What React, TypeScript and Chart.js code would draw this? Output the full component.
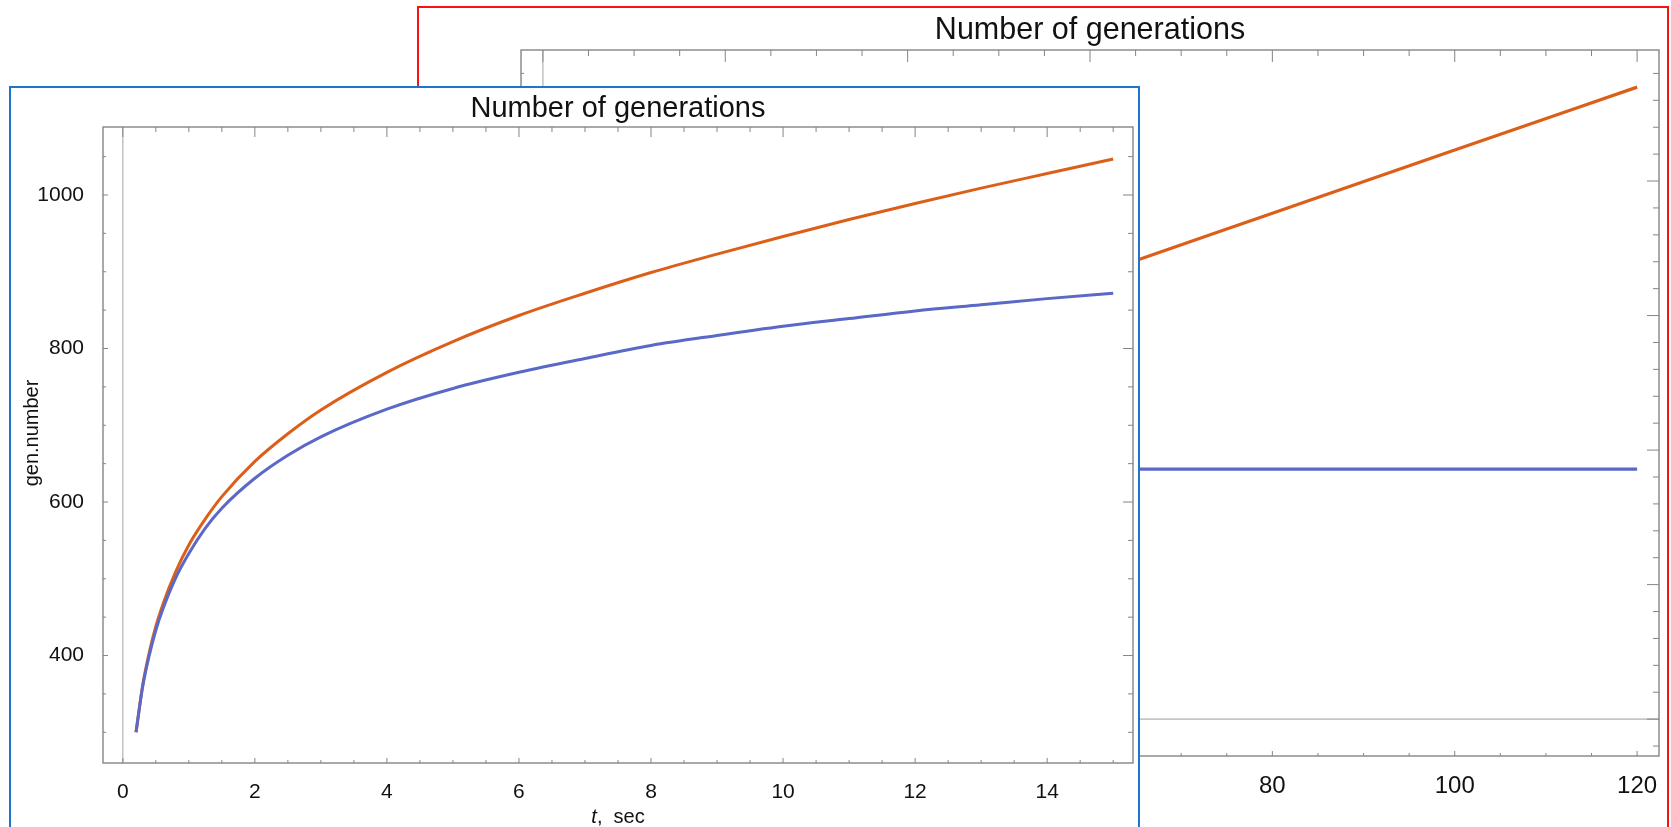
import React, { useEffect, useRef } from 'react';
import { Chart, registerables } from 'chart.js';

Chart.register(...registerables);

const FONT = "'Liberation Sans', Arial, Helvetica, sans-serif";

// ---------- Front chart (t = 0 .. 15 s) ----------
const FRONT_TIME = [0.2, 0.3, 0.4, 0.5, 0.6, 0.8, 1, 1.25, 1.5, 2, 2.5, 3, 4, 5, 6, 7, 8, 9, 10, 11, 12, 13, 14, 15];
const FRONT_ORANGE = [300, 361, 404, 438, 465, 509, 544, 578, 607, 653, 689, 720, 769, 809, 843, 872, 899, 923, 946, 968, 989, 1009, 1028, 1047];
const FRONT_BLUE = [300, 359, 400, 433, 459, 501, 533, 566, 592, 631, 661, 685, 721, 748, 769, 787, 804, 817, 829, 839, 849, 857, 865, 872];
const FRONT_X_TICKS = [0, 2, 4, 6, 8, 10, 12, 14];
const FRONT_Y_TICKS = [400, 600, 800, 1000];

// ---------- Back chart (t = 0 .. 120 s) ----------
const BACK_TIME = [0.2, 1, 2, 5, 10, 15, 20, 30, 40, 50, 60, 80, 100, 120];
const BACK_ORANGE = [300, 544, 653, 809, 946, 1047, 1135, 1270, 1400, 1525, 1645, 1880, 2115, 2349];
const BACK_BLUE = [300, 533, 631, 748, 829, 872, 895, 915, 924, 928, 929, 929, 929, 929];
const BACK_X_TICKS = [0, 20, 40, 60, 80, 100, 120];
const BACK_Y_TICKS = [0, 500, 1000, 1500, 2000];

const TITLE = 'Number of generations';
const ORANGE = '#DC5F19';
const BLUE = '#5A68C8';

function minorList(min: number, max: number, step: number) {
  const out: number[] = [];
  const start = Math.ceil(min / step - 1e-9);
  for (let k = start; k * step <= max + 1e-9; k++) out.push(+(k * step).toFixed(6));
  return out;
}

function makeFramePlugin(spec: any) {
  return {
    id: 'mmaFrame',
    beforeDatasetsDraw(chart: any) {
      const { ctx, chartArea: a, scales } = chart;
      const x = scales.x, y = scales.y;
      ctx.save();
      ctx.strokeStyle = '#c6c6c6';
      ctx.lineWidth = 1.6;
      if (x.min <= 0 && x.max >= 0) {
        const px = x.getPixelForValue(0);
        ctx.beginPath(); ctx.moveTo(px, a.top); ctx.lineTo(px, a.bottom); ctx.stroke();
      }
      if (y.min <= 0 && y.max >= 0) {
        const py = y.getPixelForValue(0);
        ctx.beginPath(); ctx.moveTo(a.left, py); ctx.lineTo(a.right, py); ctx.stroke();
      }
      ctx.restore();
    },
    afterDatasetsDraw(chart: any) {
      const { ctx, chartArea: a, scales } = chart;
      const x = scales.x, y = scales.y;
      ctx.save();
      ctx.strokeStyle = '#858585';
      ctx.lineWidth = 1.4;
      ctx.strokeRect(a.left, a.top, a.right - a.left, a.bottom - a.top);
      ctx.lineWidth = 1;
      const L = spec.tickLen;
      const xMin = minorList(x.min, x.max, spec.xMinorStep);
      const yMin = minorList(y.min, y.max, spec.yMinorStep);
      ctx.beginPath();
      xMin.forEach((v) => {
        const major = spec.xTicks.some((t: number) => Math.abs(t - v) < 1e-6);
        const px = x.getPixelForValue(v);
        const lb = major ? L.bMaj : L.bMin;
        const lt = major ? L.tMaj : L.tMin;
        ctx.moveTo(px, a.bottom); ctx.lineTo(px, a.bottom - lb);
        ctx.moveTo(px, a.top); ctx.lineTo(px, a.top + lt);
      });
      yMin.forEach((v) => {
        const major = spec.yTicks.some((t: number) => Math.abs(t - v) < 1e-6);
        const py = y.getPixelForValue(v);
        const ll = major ? L.bMaj : L.bMin;
        const lr = major ? L.tMaj : L.tMin;
        ctx.moveTo(a.left, py); ctx.lineTo(a.left + ll, py);
        ctx.moveTo(a.right, py); ctx.lineTo(a.right - lr, py);
      });
      ctx.stroke();
      ctx.restore();
    },
    afterDraw(chart: any) {
      const { ctx, chartArea: a } = chart;
      ctx.save();
      ctx.fillStyle = '#111';
      ctx.textBaseline = 'middle';
      if (spec.xTitle) {
        const it = `italic ${spec.axisTitleSize}px ${FONT}`;
        const nm = `${spec.axisTitleSize}px ${FONT}`;
        ctx.font = it;
        const w1 = ctx.measureText(spec.xTitle[0]).width;
        ctx.font = nm;
        const w2 = ctx.measureText(spec.xTitle[1]).width;
        const cx = (a.left + a.right) / 2;
        const sx = cx - (w1 + w2) / 2;
        ctx.textAlign = 'left';
        ctx.font = it;
        ctx.fillText(spec.xTitle[0], sx, spec.xTitleY);
        ctx.font = nm;
        ctx.fillText(spec.xTitle[1], sx + w1, spec.xTitleY);
      }
      if (spec.yTitle) {
        ctx.font = `${spec.axisTitleSize}px ${FONT}`;
        ctx.textAlign = 'center';
        ctx.translate(spec.yTitleX, spec.yTitleY);
        ctx.rotate(-Math.PI / 2);
        ctx.fillText(spec.yTitle, 0, 0);
      }
      ctx.restore();
    },
  };
}

function buildConfig(spec: any): any {
  return {
    type: 'line',
    data: {
      datasets: spec.series.map((s: any) => ({
        label: s.label,
        data: s.t.map((t: number, i: number) => ({ x: t, y: s.v[i] })),
        borderColor: s.color,
        backgroundColor: s.color,
        borderWidth: spec.lineWidth,
        pointRadius: 0,
        fill: false,
        cubicInterpolationMode: 'monotone',
      })),
    },
    options: {
      responsive: false,
      animation: false,
      devicePixelRatio: 1,
      layout: { padding: { left: 0, top: 0, right: spec.width - spec.area.right, bottom: 0 } },
      plugins: {
        legend: { display: false },
        tooltip: { enabled: false },
        title: {
          display: true,
          text: TITLE,
          fullSize: false,
          color: '#111',
          font: { family: FONT, size: spec.titleSize, weight: 'normal', lineHeight: 1.2 },
          padding: { top: spec.titlePadTop, bottom: spec.area.top - spec.titlePadTop - spec.titleSize * 1.2 },
        },
      },
      scales: {
        x: {
          type: 'linear',
          min: spec.xRange[0],
          max: spec.xRange[1],
          grid: { display: false },
          border: { display: false },
          ticks: {
            color: '#111',
            font: { family: FONT, size: spec.labelSize },
            padding: spec.xLabelPad,
            autoSkip: false,
            maxRotation: 0,
            callback: (v: any) => String(v),
          },
          afterBuildTicks: (ax: any) => {
            ax.ticks = spec.xTicks.map((v: number) => ({ value: v }));
          },
          afterFit: (ax: any) => {
            ax.height = spec.height - spec.area.bottom;
          },
        },
        y: {
          type: 'linear',
          min: spec.yRange[0],
          max: spec.yRange[1],
          grid: { display: false },
          border: { display: false },
          ticks: {
            color: '#111',
            font: { family: FONT, size: spec.labelSize },
            padding: spec.yLabelPad,
            autoSkip: false,
            callback: (v: any) => String(v),
          },
          afterBuildTicks: (ax: any) => {
            ax.ticks = spec.yTicks.map((v: number) => ({ value: v }));
          },
          afterFit: (ax: any) => {
            ax.width = spec.area.left;
          },
        },
      },
    },
    plugins: [makeFramePlugin(spec)],
  };
}

const FRONT_SPEC = {
  width: 1127,
  height: 760,
  area: { left: 92, top: 39, right: 1122, bottom: 675 },
  xRange: [-0.3, 15.3],
  yRange: [260, 1088.6],
  xTicks: FRONT_X_TICKS,
  yTicks: FRONT_Y_TICKS,
  xMinorStep: 0.5,
  yMinorStep: 50,
  titleSize: 29,
  titlePadTop: 3.6,
  labelSize: 21,
  axisTitleSize: 20,
  xLabelPad: 8.5,
  yLabelPad: 11,
  lineWidth: 3,
  tickLen: { bMaj: 5, bMin: 3, tMaj: 10, tMin: 5 },
  xTitle: ['t', ',  sec'],
  xTitleY: 729,
  yTitle: 'gen.number',
  yTitleX: 21,
  yTitleY: 345,
  series: [
    { label: 'blue', t: FRONT_TIME, v: FRONT_BLUE, color: BLUE },
    { label: 'orange', t: FRONT_TIME, v: FRONT_ORANGE, color: ORANGE },
  ],
};

const BACK_SPEC = {
  width: 1248,
  height: 819,
  area: { left: 102, top: 42, right: 1240, bottom: 748 },
  xRange: [-2.4, 122.4],
  yRange: [-137, 2487],
  xTicks: BACK_X_TICKS,
  yTicks: BACK_Y_TICKS,
  xMinorStep: 5,
  yMinorStep: 100,
  titleSize: 30.5,
  titlePadTop: 4.7,
  labelSize: 24,
  axisTitleSize: 24,
  xLabelPad: 8,
  yLabelPad: 11,
  lineWidth: 3.2,
  tickLen: { bMaj: 5, bMin: 3, tMaj: 12, tMin: 6 },
  xTitle: null,
  yTitle: null,
  series: [
    { label: 'blue', t: BACK_TIME, v: BACK_BLUE, color: BLUE },
    { label: 'orange', t: BACK_TIME, v: BACK_ORANGE, color: ORANGE },
  ],
};

function MmaPlot({ spec }: { spec: any }) {
  const ref = useRef<HTMLCanvasElement>(null);
  useEffect(() => {
    if (!ref.current) return;
    const chart = new Chart(ref.current, buildConfig(spec));
    return () => chart.destroy();
  }, [spec]);
  return (
    <canvas
      ref={ref}
      width={spec.width}
      height={spec.height}
      style={{ display: 'block', width: spec.width, height: spec.height }}
    />
  );
}

export default function App() {
  return (
    <div
      style={{
        position: 'fixed',
        left: 0,
        top: 0,
        width: 1671,
        height: 827,
        overflow: 'hidden',
        background: '#ffffff',
      }}
    >
      <div
        style={{
          position: 'absolute',
          left: 417,
          top: 6,
          width: 1252,
          height: 900,
          border: '2px solid #FF1010',
          boxSizing: 'border-box',
          background: '#ffffff',
        }}
      >
        <MmaPlot spec={BACK_SPEC} />
      </div>
      <div
        style={{
          position: 'absolute',
          left: 9,
          top: 86,
          width: 1131,
          height: 900,
          border: '2px solid #1F74CC',
          boxSizing: 'border-box',
          background: '#ffffff',
        }}
      >
        <MmaPlot spec={FRONT_SPEC} />
      </div>
    </div>
  );
}
